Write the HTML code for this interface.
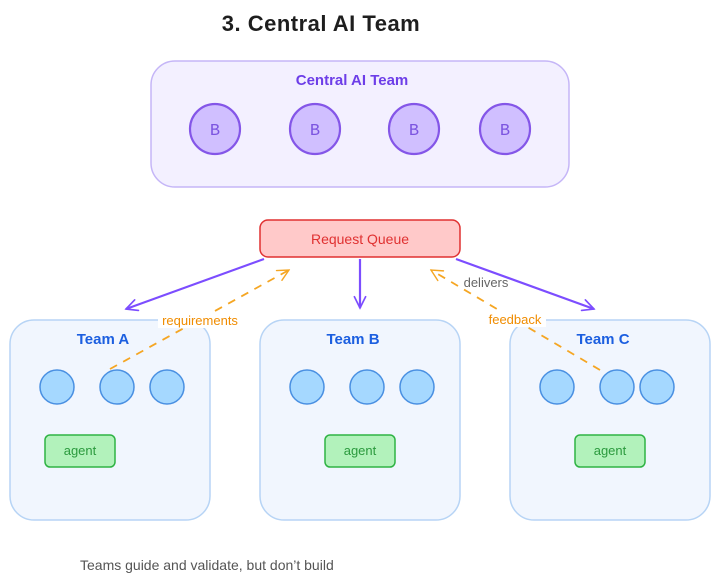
<!DOCTYPE html>
<html><head><meta charset="utf-8"><style>
html,body{margin:0;padding:0;background:#fff;}
svg{display:block;font-family:"Liberation Sans",sans-serif;}
</style></head><body>
<svg width="720" height="585" viewBox="0 0 720 585" xmlns="http://www.w3.org/2000/svg">
<defs>
<marker id="pa" viewBox="0 0 20 20" refX="18" refY="10" markerWidth="14" markerHeight="14" orient="auto" markerUnits="userSpaceOnUse"><path d="M2 2 L18 10 L2 18" fill="none" stroke="#7c4dff" stroke-width="2.4" stroke-linecap="round"/></marker>
<marker id="oa" viewBox="0 0 20 20" refX="18" refY="10" markerWidth="14" markerHeight="14" orient="auto" markerUnits="userSpaceOnUse"><path d="M2 2 L18 10 L2 18" fill="none" stroke="#f5a623" stroke-width="2" stroke-linecap="round"/></marker>
</defs>
<text x="321" y="31" font-size="22" text-anchor="middle" fill="#1e1e1e" font-weight="bold" letter-spacing="0.5">3. Central AI Team</text>
<rect x="151" y="61" width="418" height="126" rx="24" fill="#f3f0ff" stroke="#c5b6f7" stroke-width="1.5"/>
<text x="352" y="85" font-size="15" text-anchor="middle" fill="#6d3ee8" font-weight="bold">Central AI Team</text>
<g fill="#d0bfff" stroke="#8456e8" stroke-width="2.2">
<circle cx="215" cy="129" r="25"/><circle cx="315" cy="129" r="25"/><circle cx="414" cy="129" r="25"/><circle cx="505" cy="129" r="25"/>
</g>
<g font-family="Liberation Mono,monospace" font-size="17" fill="#7c55e0" text-anchor="middle">
<text x="215" y="135">B</text><text x="315" y="135">B</text><text x="414" y="135">B</text><text x="505" y="135">B</text>
</g>
<rect x="260" y="220" width="200" height="37" rx="8" fill="#ffc9c9" stroke="#e03131" stroke-width="1.5"/>
<text x="360" y="244" font-size="14" text-anchor="middle" fill="#e03131">Request Queue</text>
<g fill="#f1f6fe" stroke="#b7d4f5" stroke-width="1.5">
<rect x="10" y="320" width="200" height="200" rx="24"/><rect x="260" y="320" width="200" height="200" rx="24"/><rect x="510" y="320" width="200" height="200" rx="24"/>
</g>
<g font-size="15" fill="#1c5fe0" text-anchor="middle" font-weight="bold">
<text x="103" y="344">Team A</text><text x="353" y="344">Team B</text><text x="603" y="344">Team C</text>
</g>
<g fill="#a5d8ff" stroke="#4a90e2" stroke-width="1.5">
<circle cx="57" cy="387" r="17"/><circle cx="117" cy="387" r="17"/><circle cx="167" cy="387" r="17"/>
<circle cx="307" cy="387" r="17"/><circle cx="367" cy="387" r="17"/><circle cx="417" cy="387" r="17"/>
<circle cx="557" cy="387" r="17"/><circle cx="617" cy="387" r="17"/><circle cx="657" cy="387" r="17"/>
</g>
<g fill="#b2f2bb" stroke="#2fb344" stroke-width="1.5">
<rect x="45" y="435" width="70" height="32" rx="5"/><rect x="325" y="435" width="70" height="32" rx="5"/><rect x="575" y="435" width="70" height="32" rx="5"/>
</g>
<g font-size="13" fill="#2b9a3e" text-anchor="middle">
<text x="80" y="455">agent</text><text x="360" y="455">agent</text><text x="610" y="455">agent</text>
</g>
<g stroke="#7c4dff" stroke-width="2.2" fill="none">
<line x1="264" y1="259" x2="126" y2="309" marker-end="url(#pa)"/>
<line x1="360" y1="259" x2="360" y2="308" marker-end="url(#pa)"/>
<line x1="456" y1="259" x2="594" y2="309" marker-end="url(#pa)"/>
</g>
<g stroke="#f5a623" stroke-width="1.8" fill="none" stroke-dasharray="8 7">
<line x1="110" y1="369" x2="289" y2="270" marker-end="url(#oa)"/>
<line x1="600" y1="370" x2="431" y2="270" marker-end="url(#oa)"/>
</g>
<rect x="158" y="312" width="84" height="16" fill="#fff"/>
<rect x="484" y="311" width="62" height="16" fill="#fff"/>
<text x="200" y="325" font-size="13" text-anchor="middle" fill="#f08c00">requirements</text>
<text x="515" y="324" font-size="13" text-anchor="middle" fill="#f08c00">feedback</text>
<text x="486" y="287" font-size="13" text-anchor="middle" fill="#666">delivers</text>
<text x="80" y="570" font-size="14" fill="#555">Teams guide and validate, but don’t build</text>
</svg>
</body></html>
